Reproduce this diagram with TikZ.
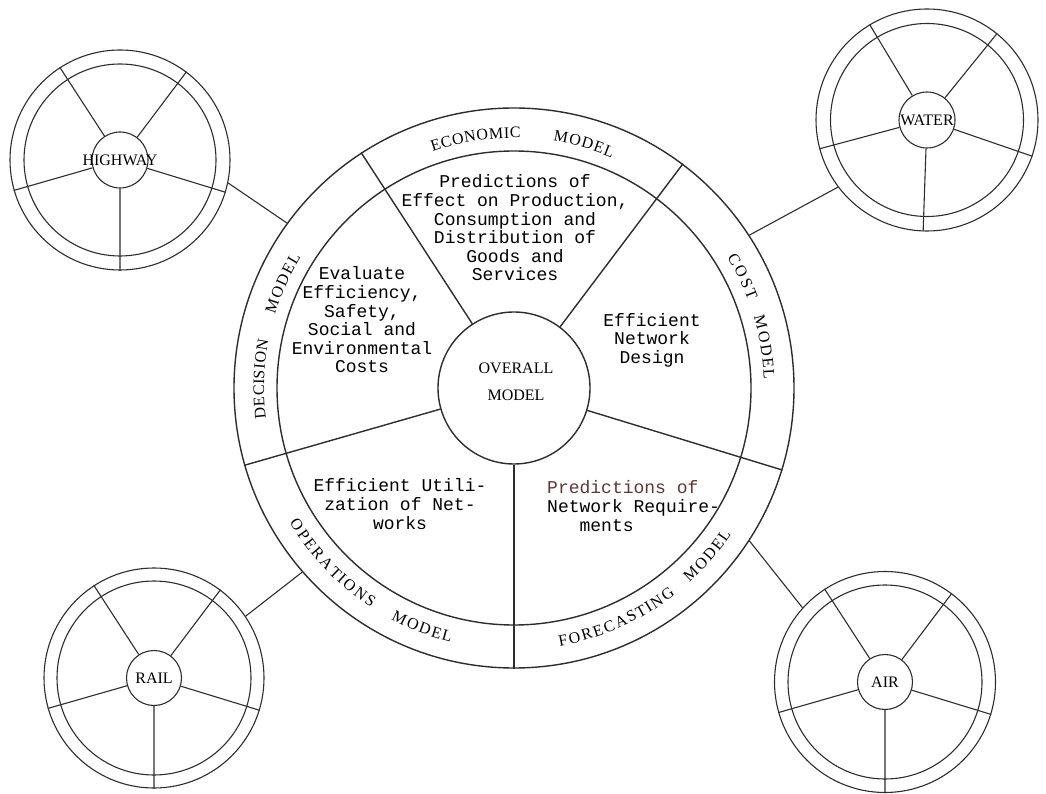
\documentclass[tikz,border=0pt]{standalone}
\usepackage{fontspec}
\setmainfont{Liberation Serif}
\setmonofont{Liberation Mono}
\usepackage{xcolor}
\usetikzlibrary{decorations.text}
\definecolor{inkgray}{RGB}{45,45,45}
\definecolor{predbrown}{RGB}{95,55,55}
\newcommand{\bandfont}{\fontsize{16pt}{16pt}\selectfont}

\begin{document}
\begin{tikzpicture}[x=1pt,y=1pt,
    rim/.style={circle,draw=inkgray,inner sep=0pt,line width=#1},
    rim/.default=1.4pt,
    spoke/.style={draw=inkgray,line width=#1},
    spoke/.default=1.4pt,
    sector/.style={font=\fontsize{18pt}{18.6pt}\selectfont\ttfamily,align=center,inner sep=0pt},
    wheelname/.style={font=\fontsize{16pt}{16pt}\selectfont,inner sep=0pt},
    bandword/.style={decorate,decoration={text effects along path,text={#1},
        text effects/.cd,text along path,fit text to path,every character/.style={font=\bandfont}}}]
      \useasboundingbox (0,0) rectangle (1046,793);

      % Overall model wheel
      \node[rim,minimum size=560pt] (mainrim) at (514,405) {};
      \node[rim,minimum size=474pt] (mainband) at (514,405) {};
      \node[rim,minimum size=152pt] (overall) at (514,405) {};
      \node[font=\fontsize{16pt}{27pt}\selectfont,align=center] (overalltext) at (516,411) {OVERALL\\MODEL};

      \draw[spoke] (overall.270) -- (mainrim.270);
      \draw[spoke] (overall.343) -- (mainrim.343);
      \draw[spoke] (overall.53) -- (mainrim.53);
      \draw[spoke] (overall.123) -- (mainrim.123);
      \draw[spoke] (overall.196) -- (mainrim.196);

      % Model names round the band
      \path[bandword=ECONOMIC] (mainrim.center) ++(109:250pt) arc[start angle=109,end angle=88.5,radius=250pt];
      \path[bandword=MODEL] (mainrim.center) ++(81:250pt) arc[start angle=81,end angle=67,radius=250pt];
      \path[bandword=COST] (mainrim.center) ++(31.5:250pt) arc[start angle=31.5,end angle=20.5,radius=250pt];
      \path[bandword=MODEL] (mainrim.center) ++(16.5:250pt) arc[start angle=16.5,end angle=2,radius=250pt];
      \path[bandword=FORECASTING] (mainrim.center) ++(-80:262pt) arc[start angle=-80,end angle=-52,radius=262pt];
      \path[bandword=MODEL] (mainrim.center) ++(-48:262pt) arc[start angle=-48,end angle=-34,radius=262pt];
      \path[bandword=OPERATIONS] (mainrim.center) ++(211:262pt) arc[start angle=211,end angle=237,radius=262pt];
      \path[bandword=MODEL] (mainrim.center) ++(242:262pt) arc[start angle=242,end angle=256,radius=262pt];
      \path[bandword=DECISION] (mainrim.center) ++(187:250pt) arc[start angle=187,end angle=169,radius=250pt];
      \path[bandword=MODEL] (mainrim.center) ++(163:250pt) arc[start angle=163,end angle=148.5,radius=250pt];

      % Sector texts
      \node[sector] (econ) at (515,565) {Predictions of\\Effect on Production,\\Consumption and\\Distribution of\\Goods and\\Services};
      \node[sector] (decis) at (362,473) {Evaluate\\Efficiency,\\Safety,\\Social and\\Environmental\\Costs};
      \node[sector] (cost) at (652,453) {Efficient\\Network\\Design};
      \node[sector] (oper) at (400,289) {Efficient Utili-\\zation of Net-\\works};
      \node[sector,align=left,anchor=west] (fore) at (547,287) {\textcolor{predbrown}{Predictions of}\\Network Require-\\\phantom{mmm}ments};

      % Highway
      \begin{scope}[shift={(120,633)}]
        \node[rim=1.1pt,minimum size=220pt] (hwrim) at (0,0) {};
        \node[rim=1.1pt,minimum size=192pt] (hwband) at (0,0) {};
        \node[rim=1.1pt,minimum size=56pt] (hwhub) at (0,0) {};
        \node[wheelname] (hwname) at (0,0) {HIGHWAY};
        \draw[spoke=1.1pt] (hwhub.123) -- (hwrim.123) (hwhub.53) -- (hwrim.53) (hwhub.343) -- (hwrim.343)
          (hwhub.270) -- (hwrim.270) (hwhub.196) -- (hwrim.196);
      \end{scope}

      % Water
      \begin{scope}[shift={(927,673)}]
        \node[rim=1.1pt,minimum size=222pt] (wtrim) at (0,0) {};
        \node[rim=1.1pt,minimum size=193pt] (wtband) at (0,0) {};
        \node[rim=1.1pt,minimum size=56pt] (wthub) at (0,0) {};
        \node[wheelname] (wtname) at (0,0) {WATER};
        \draw[spoke=1.1pt] (wthub.121) -- (wtrim.121) (wthub.51) -- (wtrim.51) (wthub.341) -- (wtrim.341)
          (wthub.268) -- (wtrim.268) (wthub.195) -- (wtrim.195);
      \end{scope}

      % Rail
      \begin{scope}[shift={(154,115)}]
        \node[rim=1.1pt,minimum size=220pt] (rlrim) at (0,0) {};
        \node[rim=1.1pt,minimum size=194pt] (rlband) at (0,0) {};
        \node[rim=1.1pt,minimum size=55pt] (rlhub) at (0,0) {};
        \node[wheelname] (rlname) at (0,0) {RAIL};
        \draw[spoke=1.1pt] (rlhub.123) -- (rlrim.123) (rlhub.53) -- (rlrim.53) (rlhub.343) -- (rlrim.343)
          (rlhub.270) -- (rlrim.270) (rlhub.196) -- (rlrim.196);
      \end{scope}

      % Air
      \begin{scope}[shift={(885,111)}]
        \node[rim=1.1pt,minimum size=221pt] (arrim) at (0,0) {};
        \node[rim=1.1pt,minimum size=194pt] (arband) at (0,0) {};
        \node[rim=1.1pt,minimum size=55pt] (arhub) at (0,0) {};
        \node[wheelname] (arname) at (0,0) {AIR};
        \draw[spoke=1.1pt] (arhub.123) -- (arrim.123) (arhub.53) -- (arrim.53) (arhub.343) -- (arrim.343)
          (arhub.270) -- (arrim.270) (arhub.196) -- (arrim.196);
      \end{scope}

      % Links to the overall model
      \draw[spoke=1.1pt] (hwrim.348) -- (mainrim.144);
      \draw[spoke=1.1pt] (wtrim.217) -- (mainrim.33);
      \draw[spoke=1.1pt] (rlrim.34) -- (mainrim.221);
      \draw[spoke=1.1pt] (arrim.138) -- (mainrim.327);
    \end{tikzpicture}
\end{document}
